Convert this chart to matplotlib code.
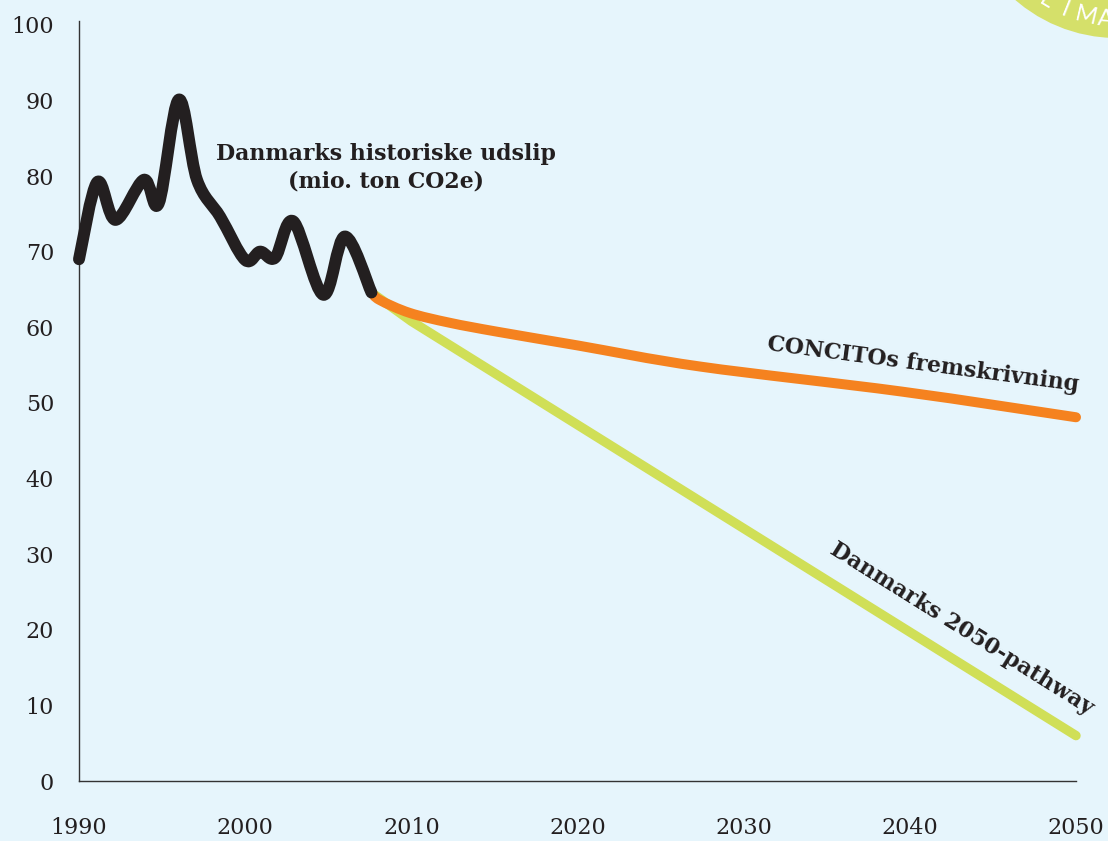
import numpy as np
import matplotlib.pyplot as plt
from matplotlib.path import Path
from matplotlib.patches import PathPatch, Circle

# historiske udslip (mio. ton CO2e), aflaest fra figuren
hist_years = [1990, 1991.1, 1992.2, 1993.9, 1994.8, 1996.0, 1997.1, 1998.5,
              2000.0, 2000.9, 2001.8, 2002.9, 2004.7, 2006.0, 2007.6]
hist_vals = [69.0, 79.2, 74.2, 79.5, 76.4, 90.1, 79.5, 74.6,
             68.9, 70.0, 69.2, 74.0, 64.3, 72.0, 64.6]

# CONCITOs fremskrivning
proj_years = [2007.6, 2008.1, 2009.9, 2012.3, 2015.2, 2020.0, 2027.4, 2039.5, 2050.0]
proj_vals = [64.6, 63.6, 61.9, 60.6, 59.4, 57.6, 54.8, 51.5, 48.1]

# Danmarks 2050-pathway
path_years = [2007.6, 2010.0, 2050.0]
path_vals = [64.6, 60.8, 6.0]

x_ticks = [1990, 2000, 2010, 2020, 2030, 2040, 2050]
y_ticks = [0, 10, 20, 30, 40, 50, 60, 70, 80, 90, 100]

BG = "#e6f5fc"
DARK = "#231f20"
ORANGE = "#f5821f"
GREEN = "#d0df57"


def smooth_path(xs, ys):
    # catmull-rom -> bezier, saa linjen bliver blod
    pts = np.column_stack([xs, ys]).astype(float)
    n = len(pts)
    verts = [pts[0]]
    codes = [Path.MOVETO]
    for i in range(n - 1):
        p0 = pts[i - 1] if i > 0 else pts[i]
        p3 = pts[i + 2] if i + 2 < n else pts[i + 1]
        c1 = pts[i] + (pts[i + 1] - p0) / 6
        c2 = pts[i + 1] - (p3 - pts[i]) / 6
        verts += [c1, c2, pts[i + 1]]
        codes += [Path.CURVE4] * 3
    return Path(verts, codes)


plt.rcParams['font.family'] = ['DejaVu Serif']

fig = plt.figure(figsize=(11.08, 8.41), dpi=100, facecolor=BG)
ax = fig.add_axes([79 / 1108, 60 / 841, 997 / 1108, 760 / 841])
ax.set_facecolor(BG)
ax.set_xlim(1990, 2050)
ax.set_ylim(0, 100.5)

ax.plot(path_years, path_vals, color=GREEN, lw=6.8, solid_capstyle='round',
        solid_joinstyle='round', clip_on=False, zorder=3)
ax.add_patch(PathPatch(smooth_path(proj_years, proj_vals), fill=False, edgecolor=ORANGE,
                       lw=7.2, capstyle='round', joinstyle='round', clip_on=False, zorder=4))
ax.add_patch(PathPatch(smooth_path(hist_years, hist_vals), fill=False, edgecolor=DARK,
                       lw=8.6, capstyle='round', joinstyle='round', clip_on=False, zorder=5))

for s in ['top', 'right']:
    ax.spines[s].set_visible(False)
for s in ['left', 'bottom']:
    ax.spines[s].set_color("#333333")
    ax.spines[s].set_linewidth(1.0)

ax.set_xticks(x_ticks)
ax.set_yticks(y_ticks)
ax.tick_params(axis='x', length=0, pad=26, labelsize=16, labelcolor=DARK)
ax.tick_params(axis='y', length=0, pad=18, labelsize=16, labelcolor=DARK)

ax.text(2008.5, 81.1, "Danmarks historiske udslip\n(mio. ton CO2e)", ha='center', va='center',
        fontsize=15.8, fontweight='bold', color=DARK, linespacing=1.35)
ax.text(2040.8, 55.0, "CONCITOs fremskrivning", ha='center', va='center', rotation=-7.5,
        rotation_mode='anchor', fontsize=15.8, fontweight='bold', color=DARK)
ax.text(2043.1, 20.1, "Danmarks 2050-pathway", ha='center', va='center', rotation=-32,
        rotation_mode='anchor', fontsize=15.8, fontweight='bold', color=DARK)

# gront logo-hjorne oppe til hojre
deco = fig.add_axes([0, 0, 1, 1], zorder=10)
deco.set_xlim(0, 1108)
deco.set_ylim(841, 0)
deco.axis('off')
deco.patch.set_alpha(0)
deco.add_patch(Circle((1117, -117), 155, color="#d5e06a", lw=0))
cx, cy, r = 1117, -117, 137
for ch, ang in zip("KLIMA", [-130, -121, -112, -103, -95]):
    a = np.radians(ang)
    deco.text(cx + r * np.cos(a), cy - r * np.sin(a), ch, color='white', fontsize=17,
              family='Lato', ha='center', va='center', rotation=ang + 90, clip_on=True)

fig.savefig("out.png", dpi=100, facecolor=BG)
